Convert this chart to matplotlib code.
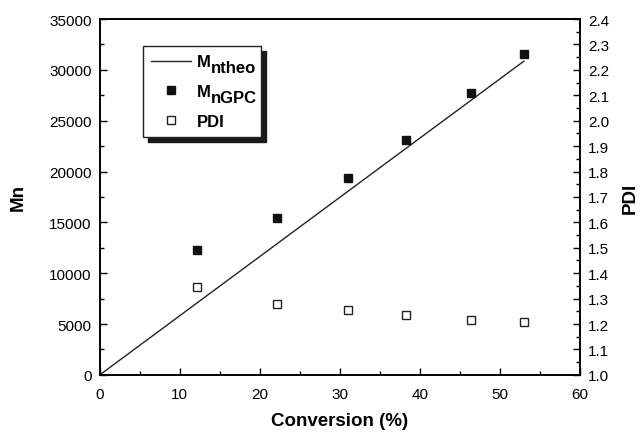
import numpy as np
import matplotlib.pyplot as plt
from matplotlib.ticker import MultipleLocator
from matplotlib.patches import Rectangle

plt.rcParams['font.family'] = 'Liberation Sans'

# data
conversion = [12.2, 22.2, 31.0, 38.3, 46.4, 53.0]
mn_gpc = [12250, 15400, 19350, 23100, 27750, 31600]
pdi = [1.346, 1.277, 1.257, 1.237, 1.216, 1.207]
theo_conv = [0, 53.0]
theo_mn = [0, 30850]

fig = plt.figure(figsize=(6.4, 4.35), dpi=100)
ax = fig.add_axes([0.156, 0.136, 0.750, 0.818])
ax2 = ax.twinx()
ax.set_zorder(1)
ax.patch.set_visible(False)

l1, = ax.plot(theo_conv, theo_mn, '-', color='#222222', lw=1.0)
l2, = ax.plot(conversion, mn_gpc, 's', color='#111111', ms=6, mec='#111111')
l3, = ax2.plot(conversion, pdi, 's', mfc='white', mec='#222222', ms=5.5, mew=1.0)

ax.set_xlim(0, 60)
ax.set_ylim(0, 35000)
ax2.set_ylim(1.0, 2.4)
ax.xaxis.set_major_locator(MultipleLocator(10))
ax.xaxis.set_minor_locator(MultipleLocator(5))
ax.yaxis.set_major_locator(MultipleLocator(5000))
ax.yaxis.set_minor_locator(MultipleLocator(2500))
ax2.yaxis.set_major_locator(MultipleLocator(0.1))
ax2.yaxis.set_minor_locator(MultipleLocator(0.05))
ax2.yaxis.set_major_formatter(plt.FormatStrFormatter('%.1f'))

for a in (ax, ax2):
    a.tick_params(which='major', direction='in', length=5, width=1, labelsize=11, pad=6)
    a.tick_params(which='minor', direction='in', length=3, width=1)
    for s in a.spines.values():
        s.set_linewidth(1.2)
ax.tick_params(axis='both', which='both', top=False, right=False)
ax.tick_params(axis='x', which='major', pad=9)

ax.set_xlabel('Conversion (%)', fontsize=13.5, fontweight='bold', labelpad=8)
ax.set_ylabel('Mn', fontsize=13.5, fontweight='bold', labelpad=16)
ax2.set_ylabel('PDI', fontsize=13.5, fontweight='bold', rotation=90, labelpad=9)

# legend: "M" with a full size subscript written next to it
labels = ['M', 'M', 'PDI']
subs = ['ntheo', 'nGPC', None]
leg = ax.legend([l1, l2, l3], labels, mode='expand',
                loc='upper left', bbox_to_anchor=(0.09, 0.5, 0.246, 0.424),
                borderaxespad=0, fancybox=False, shadow=False,
                prop={'weight': 'bold', 'size': 12},
                handlelength=2.4, handletextpad=0.35, labelspacing=0.88,
                borderpad=0.5, edgecolor='#222222', framealpha=1)
leg.get_frame().set_linewidth(1.0)

fig.canvas.draw()
for t, s in zip(leg.get_texts(), subs):
    if s:
        ax.annotate(s, xy=(1, 0), xycoords=t, xytext=(0, -4),
                    textcoords='offset points', ha='left', va='bottom',
                    fontsize=12, fontweight='bold', annotation_clip=False, zorder=10)

# shadow of the legend box
bb = leg.get_window_extent()
fig.patches.append(Rectangle((bb.x0 + 5, bb.y0 - 5), bb.width, bb.height,
                             transform=None, color='#1a1a1a', zorder=0))

fig.savefig('out.png', dpi=100)
